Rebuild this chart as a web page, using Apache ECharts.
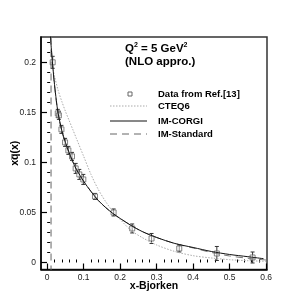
<!DOCTYPE html>
<html>
<head>
<meta charset="utf-8">
<script src="https://cdn.jsdelivr.net/npm/echarts@6/dist/echarts.min.js"></script>
<style>
html,body{margin:0;padding:0;background:#fff;}
#c{width:305px;height:305px;}
</style>
</head>
<body>
<div id="c"></div>
<script>
// ---- data ----
var dataX   = [0.015,0.029,0.032,0.039,0.049,0.058,0.068,0.078,0.088,0.099,0.131,0.182,0.233,0.286,0.362,0.465,0.563];
var dataY   = [0.200,0.149,0.147,0.133,0.120,0.112,0.106,0.094,0.088,0.083,0.066,0.050,0.034,0.024,0.014,0.009,0.005];
var dataErr = [0.006,0.004,0.004,0.004,0.004,0.004,0.004,0.005,0.005,0.005,0.003,0.0035,0.0045,0.005,0.0035,0.007,0.0055];

var corgiX = [0.009,0.012,0.015,0.02,0.025,0.03,0.04,0.05,0.06,0.07,0.08,0.09,0.1,0.12,0.14,0.16,0.18,0.2,0.23,0.26,0.3,0.35,0.4,0.45,0.5,0.55,0.593];
var corgiY = [0.226,0.210,0.197,0.178,0.162,0.149,0.132,0.120,0.110,0.101,0.093,0.087,0.081,0.071,0.062,0.055,0.049,0.044,0.037,0.031,0.025,0.019,0.015,0.011,0.008,0.0058,0.0038];

var cteqX = [0.016,0.02,0.03,0.04,0.05,0.06,0.07,0.08,0.1,0.12,0.14,0.16,0.18,0.2,0.23,0.26,0.3,0.35,0.4,0.45,0.5,0.55,0.6];
var cteqY = [0.193,0.186,0.172,0.161,0.151,0.142,0.133,0.124,0.106,0.088,0.073,0.061,0.051,0.043,0.032,0.025,0.0175,0.011,0.0068,0.0045,0.0028,0.0018,0.0012];

var stdX = [0.012,0.015,0.02,0.025,0.03,0.04,0.05,0.06,0.07,0.08,0.09,0.1,0.12,0.14,0.16,0.18,0.2,0.23,0.26,0.3,0.35,0.4,0.45,0.5,0.55,0.6];
var stdY = [0.212,0.196,0.177,0.161,0.148,0.131,0.119,0.109,0.100,0.093,0.087,0.081,0.071,0.062,0.055,0.049,0.044,0.037,0.031,0.025,0.019,0.0145,0.010,0.0065,0.0042,0.0025];
var stdVertX = [0.0105,0.0105];
var stdVertY = [-0.01,0.24];

var xMajor = [0,0.1,0.2,0.3,0.4,0.5,0.6];
var xMinor = [0.02,0.04,0.06,0.08,0.12,0.14,0.16,0.18,0.22,0.24,0.26,0.28,0.32,0.34,0.36,0.38,0.42,0.44,0.46,0.48,0.52,0.54,0.56,0.58];
var yMajor = [0,0.05,0.1,0.15,0.2];
var yMinor = [0.01,0.02,0.03,0.04,0.06,0.07,0.08,0.09,0.11,0.12,0.13,0.14,0.16,0.17,0.18,0.19,0.21,0.22];

var legendNames = ['Data from Ref.[13]','CTEQ6','IM-CORGI','IM-Standard'];

function zip(a,b){ return a.map(function(v,i){ return [v,b[i]]; }); }

var FONT = '"Liberation Sans", Arial, Helvetica, sans-serif';
var chart = echarts.init(document.getElementById('c'), null, {renderer:'canvas'});

var xMin=-0.017, xMax=0.6025, yMin=-0.007, yMax=0.2253;

var option = {
  animation:false,
  backgroundColor:'#fff',
  grid:{left:41, top:37, width:226, height:232.5, show:true, borderColor:'#333', borderWidth:1.5,
        containLabel:false, outerBoundsMode:'none'},
  title:{
    left:120, top:37,
    text:'Q{s|2} = 5 GeV{s|2}\n(NLO appro.)',
    textStyle:{
      fontFamily:FONT, fontSize:11.5, fontWeight:'bold', color:'#000', lineHeight:13,
      rich:{ s:{fontFamily:FONT, fontSize:7, fontWeight:'bold', color:'#000', verticalAlign:'top', lineHeight:13, padding:[0,0,5,0]} }
    }
  },
  xAxis:[
    {type:'value', min:xMin, max:xMax, position:'bottom',
     name:'x-Bjorken', nameLocation:'middle', nameGap:11, nameMoveOverlap:false,
     nameTextStyle:{fontFamily:FONT, fontSize:10.5, fontWeight:'bold', color:'#000'},
     axisLine:{show:true, onZero:false, lineStyle:{color:'#000', width:1.5}},
     axisTick:{show:true, inside:true, length:6, customValues:xMajor, lineStyle:{color:'#000', width:1.2}},
     axisLabel:{show:true, customValues:xMajor, margin:4, fontFamily:FONT, fontSize:8.5, color:'#222',
       formatter:function(v){ return String(Math.round(v*10)/10); }},
     splitLine:{show:false}},
    {type:'value', min:xMin, max:xMax, position:'bottom', gridIndex:0,
     axisLine:{show:false},
     axisTick:{show:true, inside:true, length:3, customValues:xMinor, lineStyle:{color:'#000', width:1}},
     axisLabel:{show:false}, splitLine:{show:false}}
  ],
  yAxis:[
    {type:'value', min:yMin, max:yMax, position:'left',
     name:'xq\u0305(x)', nameLocation:'middle', nameGap:20, nameRotate:90, nameMoveOverlap:false,
     nameTextStyle:{fontFamily:FONT, fontSize:10.5, fontWeight:'bold', color:'#000'},
     axisLine:{show:true, onZero:false, lineStyle:{color:'#000', width:1.5}},
     axisTick:{show:true, inside:true, length:6, customValues:yMajor, lineStyle:{color:'#000', width:1.2}},
     axisLabel:{show:true, customValues:yMajor, margin:5, fontFamily:FONT, fontSize:8.5, color:'#222',
       formatter:function(v){ return String(Math.round(v*100)/100); }},
     splitLine:{show:false}},
    {type:'value', min:yMin, max:yMax, position:'left', gridIndex:0,
     axisLine:{show:false},
     axisTick:{show:true, inside:true, length:3, customValues:yMinor, lineStyle:{color:'#000', width:1}},
     axisLabel:{show:false}, splitLine:{show:false}}
  ],
  series:[
    {name:legendNames[1], type:'line', data:zip(cteqX,cteqY), smooth:0.3, symbol:'none', clip:true,
     lineStyle:{color:'#aaa', width:1, type:[1.5,1.5]}},
    {name:legendNames[3], type:'line', data:zip(stdVertX,stdVertY), symbol:'none', clip:true,
     lineStyle:{color:'#666', width:1, type:[7,5]}},
    {name:legendNames[3], type:'line', data:zip(stdX,stdY), smooth:0.3, symbol:'none', clip:true,
     lineStyle:{color:'#777', width:1, type:[7,5]}},
    {name:legendNames[2], type:'line', data:zip(corgiX,corgiY), smooth:0.3, symbol:'none', clip:true,
     lineStyle:{color:'#111', width:1}},
    {name:'err', type:'custom', clip:true,
     data:dataX.map(function(x,i){ return [x, dataY[i]-dataErr[i], dataY[i]+dataErr[i]]; }),
     renderItem:function(params, api){
       var lo = api.coord([api.value(0), api.value(1)]);
       var hi = api.coord([api.value(0), api.value(2)]);
       var hw = 2;
       var st = {stroke:'#333', lineWidth:1};
       return {type:'group', children:[
         {type:'line', shape:{x1:lo[0],y1:lo[1],x2:hi[0],y2:hi[1]}, style:st},
         {type:'line', shape:{x1:lo[0]-hw,y1:lo[1],x2:lo[0]+hw,y2:lo[1]}, style:st},
         {type:'line', shape:{x1:hi[0]-hw,y1:hi[1],x2:hi[0]+hw,y2:hi[1]}, style:st}
       ]};
     }},
    {name:legendNames[0], type:'scatter', data:zip(dataX,dataY), symbol:'rect', symbolSize:5,
     itemStyle:{color:'rgba(255,255,255,0.6)', borderColor:'#666', borderWidth:1}}
  ],
  graphic:[
    {type:'rect', shape:{x:128, y:92, width:4, height:4}, style:{fill:'#fff', stroke:'#666', lineWidth:1}},
    {type:'line', shape:{x1:110,y1:106,x2:147,y2:106}, style:{stroke:'#aaa', lineWidth:1, lineDash:[1.5,1.5]}},
    {type:'line', shape:{x1:110,y1:121,x2:147,y2:121}, style:{stroke:'#111', lineWidth:1}},
    {type:'line', shape:{x1:110,y1:134,x2:147,y2:134}, style:{stroke:'#666', lineWidth:1, lineDash:[7,5]}},
    {type:'text', x:158, y:94, style:{text:legendNames[0], font:'bold 9.5px '+FONT, fill:'#000', verticalAlign:'middle'}},
    {type:'text', x:158, y:106, style:{text:legendNames[1], font:'bold 9.5px '+FONT, fill:'#000', verticalAlign:'middle'}},
    {type:'text', x:158, y:121, style:{text:legendNames[2], font:'bold 9.5px '+FONT, fill:'#000', verticalAlign:'middle'}},
    {type:'text', x:158, y:134, style:{text:legendNames[3], font:'bold 9.5px '+FONT, fill:'#000', verticalAlign:'middle'}}
  ]
};
chart.setOption(option);
</script>
</body>
</html>
